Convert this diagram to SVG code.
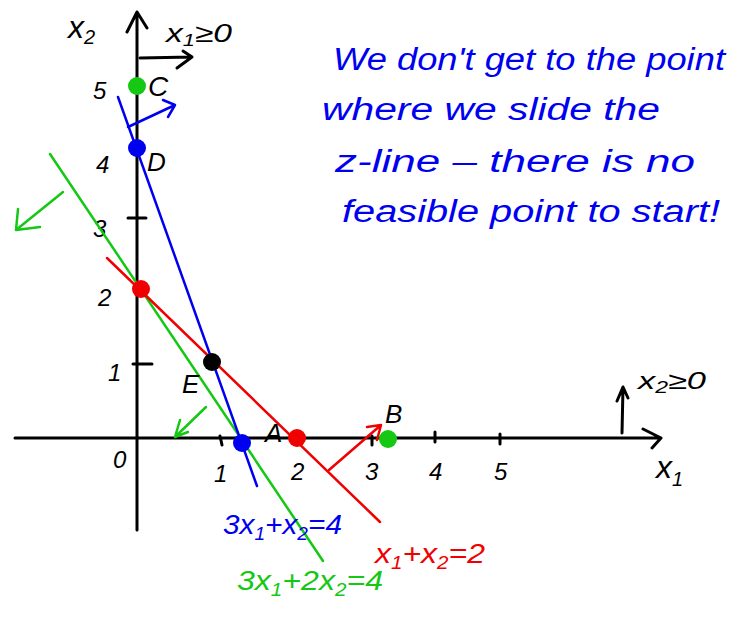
<svg xmlns="http://www.w3.org/2000/svg" width="751" height="624" viewBox="0 0 751 624">
<style>
.ax{stroke:#000;stroke-width:3;fill:none;stroke-linecap:round;stroke-linejoin:round}
.b{stroke:#0000f0;stroke-width:2.5;fill:none;stroke-linecap:round;stroke-linejoin:round}
.g{stroke:#14c814;stroke-width:2.5;fill:none;stroke-linecap:round;stroke-linejoin:round}
.r{stroke:#f00000;stroke-width:2.5;fill:none;stroke-linecap:round;stroke-linejoin:round}
.t{font-family:"Liberation Sans",Arial,sans-serif;font-style:italic}
.k{fill:#000}
.tb{fill:#0000f0}
.tg{fill:#14c814}
.tr{fill:#f00000}
</style>
<rect width="751" height="624" fill="#fff"/>
<g id="axes">
<path class="ax" d="M137,530 L137,12 M127,32 L137,12 L147,28"/>
<path class="ax" d="M15,438 L660,438 M643,429 L661,438 L652,448"/>
<path class="ax" d="M128,218 L146,218 M133,364 L152,364 M220,436 L222,445 M372,436 L372,445 M435,432 L435,442 M500,434 L500,444"/>
<g class="t k" font-size="24">
<text x="93" y="99">5</text>
<text x="96" y="173">4</text>
<text x="93" y="237">3</text>
<text x="98" y="306">2</text>
<text x="108" y="381">1</text>
<text x="113" y="468">0</text>
<text x="214" y="482">1</text>
<text x="291" y="480">2</text>
<text x="365" y="480">3</text>
<text x="429" y="480">4</text>
<text x="494" y="480">5</text>
</g>
<text class="t k" x="68" y="38" font-size="32">x<tspan font-size="20" dy="6">2</tspan></text>
<text class="t k" x="656" y="478" font-size="32">x<tspan font-size="20" dy="8">1</tspan></text>
</g>
<g id="x1-constraint">
<path class="ax" d="M140,58 L192,57 M183,51 L192,57 L177,68"/>
<text class="t k" x="166" y="42" font-size="26" textLength="66" lengthAdjust="spacingAndGlyphs">x<tspan font-size="17" dy="4">1</tspan><tspan dy="-4">≥0</tspan></text>
</g>
<g id="x2-constraint">
<path class="ax" d="M622,433 L623,387 M617,401 L623,387 L628,398"/>
<text class="t k" x="638" y="389" font-size="24" textLength="68" lengthAdjust="spacingAndGlyphs">x<tspan font-size="16" dy="4">2</tspan><tspan dy="-4">≥0</tspan></text>
</g>
<g id="connectors">
<path class="g" d="M50,154 L323,561"/>
<path class="g" d="M63,192 L16,230 M18,209 L16,230 L40,227"/>
<path class="g" d="M206,407 L175,437 M180,420 L175,437 L188,432"/>
<path class="r" d="M107,258 L380,522"/>
<path class="r" d="M329,470 L381,425 M367,427 L381,425 L377,440"/>
<path class="b" d="M118,97 L257,486"/>
<path class="b" d="M128,127 L175,105 M163,100 L175,105 L168,117"/>
</g>
<g id="C"><circle cx="137" cy="86" r="9" fill="#14c814"/><text class="t k" x="148" y="96" font-size="28">C</text></g>
<g id="D"><circle cx="137" cy="148" r="9" fill="#0000f0"/><text class="t k" x="147" y="171" font-size="26">D</text></g>
<g id="P2"><circle cx="141" cy="289" r="9" fill="#f00000"/></g>
<g id="E"><circle cx="212" cy="362" r="9" fill="#000"/><text class="t k" x="182" y="393" font-size="26">E</text></g>
<g id="P43"><circle cx="242" cy="443" r="9" fill="#0000f0"/></g>
<g id="A"><circle cx="297" cy="438" r="9" fill="#f00000"/><text class="t k" x="265" y="442" font-size="26">A</text></g>
<g id="B"><circle cx="388" cy="439" r="9" fill="#14c814"/><text class="t k" x="385" y="423" font-size="26">B</text></g>
<g id="labels">
<text class="t tb" x="223" y="534" font-size="28" textLength="119" lengthAdjust="spacingAndGlyphs">3x<tspan font-size="18" dy="6">1</tspan><tspan dy="-6">+x</tspan><tspan font-size="18" dy="6">2</tspan><tspan dy="-6">=4</tspan></text>
<text class="t tg" x="237" y="590" font-size="28" textLength="146" lengthAdjust="spacingAndGlyphs">3x<tspan font-size="18" dy="6">1</tspan><tspan dy="-6">+2x</tspan><tspan font-size="18" dy="6">2</tspan><tspan dy="-6">=4</tspan></text>
<text class="t tr" x="375" y="563" font-size="28" textLength="110" lengthAdjust="spacingAndGlyphs">x<tspan font-size="18" dy="6">1</tspan><tspan dy="-6">+x</tspan><tspan font-size="18" dy="6">2</tspan><tspan dy="-6">=2</tspan></text>
</g>
<g id="note" class="t tb" font-size="31">
<text x="333" y="70" textLength="392" lengthAdjust="spacingAndGlyphs">We don't get to the point</text>
<text x="322" y="120" textLength="338" lengthAdjust="spacingAndGlyphs">where we slide the</text>
<text x="335" y="172" textLength="360" lengthAdjust="spacingAndGlyphs">z-line – there is no</text>
<text x="342" y="222" textLength="378" lengthAdjust="spacingAndGlyphs">feasible point to start!</text>
</g>
</svg>
